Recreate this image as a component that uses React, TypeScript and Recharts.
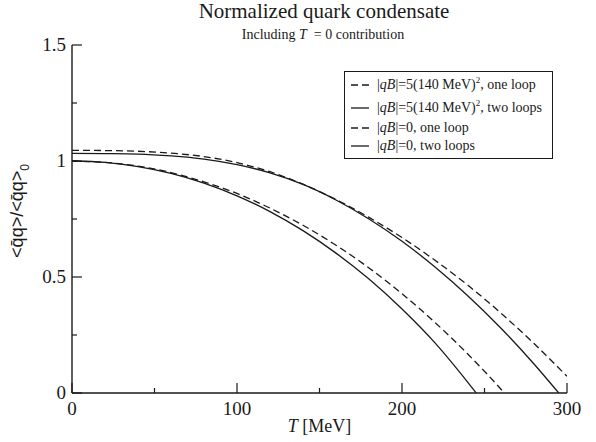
import { Legend, Line, LineChart, XAxis, YAxis } from "recharts";

const INK = "#1a1a1a";
const SERIF = '"Liberation Serif", "Times New Roman", serif';
const SANS = '"Liberation Sans", "DejaVu Sans", sans-serif';

// temperatures (MeV) and normalized condensate
const tQb5OneLoop = [0, 20, 40, 60, 80, 100, 120, 140, 160, 180, 200, 220, 240, 260, 280, 300];
const qb5OneLoop = [1.046, 1.045, 1.042, 1.034, 1.019, 0.993, 0.954, 0.9, 0.834, 0.757, 0.67, 0.572, 0.464, 0.344, 0.213, 0.072];

const tQb5TwoLoops = [0, 20, 40, 60, 80, 100, 120, 140, 160, 180, 200, 220, 240, 260, 280, 295];
const qb5TwoLoops = [1.033, 1.032, 1.03, 1.022, 1.008, 0.984, 0.949, 0.899, 0.832, 0.75, 0.654, 0.543, 0.418, 0.279, 0.125, 0];

const tQb0OneLoop = [0, 20, 40, 60, 80, 100, 120, 140, 160, 180, 200, 220, 240, 260, 262];
const qb0OneLoop = [1.0, 0.994, 0.978, 0.95, 0.91, 0.86, 0.797, 0.723, 0.637, 0.539, 0.428, 0.304, 0.167, 0.016, 0];

const tQb0TwoLoops = [0, 20, 40, 60, 80, 100, 120, 140, 160, 180, 200, 220, 240, 245];
const qb0TwoLoops = [1.0, 0.994, 0.976, 0.947, 0.905, 0.85, 0.782, 0.7, 0.603, 0.491, 0.362, 0.216, 0.045, 0];

const xTicks = [0, 50, 100, 150, 200, 250, 300];
const yTicks = [0, 0.25, 0.5, 0.75, 1, 1.25, 1.5];

const rows = (ts: number[], vs: number[]) => ts.map((T, i) => ({ T, v: vs[i] }));

const SERIES = [
  { id: "qb5-1", data: rows(tQb5OneLoop, qb5OneLoop), dashed: true, field: "5(140 MeV)", squared: true, loops: "one loop" },
  { id: "qb5-2", data: rows(tQb5TwoLoops, qb5TwoLoops), dashed: false, field: "5(140 MeV)", squared: true, loops: "two loops" },
  { id: "qb0-1", data: rows(tQb0OneLoop, qb0OneLoop), dashed: true, field: "0", squared: false, loops: "one loop" },
  { id: "qb0-2", data: rows(tQb0TwoLoops, qb0TwoLoops), dashed: false, field: "0", squared: false, loops: "two loops" },
];

const DASH = "7 4";
const isMajorX = (v: number) => v % 100 === 0;
const isMajorY = (v: number) => Math.abs(v * 2 - Math.round(v * 2)) < 1e-6;

function BottomTick({ x, y, payload }: any) {
  const major = isMajorX(payload.value);
  return (
    <g>
      <line x1={x} x2={x} y1={y} y2={y - (major ? 10 : 5)} stroke={INK} strokeWidth={1.2} />
      {major && (
        <text x={x} y={y + 22} textAnchor="middle" fontFamily={SERIF} fontSize={19} fill={INK}>
          {payload.value}
        </text>
      )}
    </g>
  );
}

function TopTick({ x, y, payload }: any) {
  const major = isMajorX(payload.value);
  return <line x1={x} x2={x} y1={y} y2={y + (major ? 10 : 5)} stroke={INK} strokeWidth={1.2} />;
}

function LeftTick({ x, y, payload }: any) {
  const major = isMajorY(payload.value);
  return (
    <g>
      <line x1={x} x2={x + (major ? 10 : 5)} y1={y} y2={y} stroke={INK} strokeWidth={1.2} />
      {major && (
        <text x={x - 6} y={y} dy="0.34em" textAnchor="end" fontFamily={SERIF} fontSize={19} fill={INK}>
          {payload.value}
        </text>
      )}
    </g>
  );
}

function RightTick({ x, y, payload }: any) {
  const major = isMajorY(payload.value);
  return <line x1={x} x2={x - (major ? 10 : 5)} y1={y} y2={y} stroke={INK} strokeWidth={1.2} />;
}

function YTitle({ viewBox }: any) {
  const cx = viewBox.x + 23;
  const cy = viewBox.y + viewBox.height / 2 - 8;
  return (
    <text x={cx} y={cy} textAnchor="middle" transform={`rotate(-90, ${cx}, ${cy})`} fontFamily={SANS} fontSize={18} fill={INK}>
      {"<q\u0304q>/<q\u0304q>"}
      <tspan dy={6} fontSize={12}>0</tspan>
    </text>
  );
}

function XTitle({ viewBox }: any) {
  const cx = viewBox.x + viewBox.width / 2;
  return (
    <text x={cx} y={432} textAnchor="middle" fontFamily={SERIF} fontSize={18} fill={INK}>
      <tspan fontStyle="italic">T</tspan> [MeV]
    </text>
  );
}

function LegendBox() {
  const centers = [13, 36, 56, 74];
  return (
    <div
      style={{
        position: "relative",
        width: 207,
        height: 86,
        border: `1px solid ${INK}`,
        background: "#fff",
        fontFamily: SERIF,
        fontSize: 14,
        color: INK,
      }}
    >
      {SERIES.map((s, i) => (
        <div key={s.id} style={{ position: "absolute", left: 0, right: 0, top: centers[i] - 9, height: 18, lineHeight: "18px", whiteSpace: "nowrap" }}>
          <svg width={20} height={18} style={{ position: "absolute", left: 5, top: 0 }}>
            <line x1={1} x2={19} y1={9} y2={9} stroke={INK} strokeWidth={1.3} strokeDasharray={s.dashed ? DASH : undefined} />
          </svg>
          <span style={{ position: "absolute", left: 32, top: 0 }}>
            |<i>qB</i>|=
            {s.field}
            {s.squared && <sup style={{ fontSize: 9, lineHeight: 0, verticalAlign: "6px" }}>2</sup>}, {s.loops}
          </span>
        </div>
      ))}
    </div>
  );
}

export default function App() {
  return (
    <div style={{ position: "absolute", left: 0, top: 0, width: 596, height: 442, background: "#fff" }}>
      <svg width={596} height={442} style={{ position: "absolute", left: 0, top: 0 }}>
        <text x={324} y={18} textAnchor="middle" fontFamily={SERIF} fontSize={21} fill={INK}>
          Normalized quark condensate
        </text>
        <text x={323} y={39} textAnchor="middle" fontFamily={SERIF} fontSize={14} fill={INK}>
          Including <tspan fontStyle="italic">T</tspan>{"\u00a0\u00a0= 0 contribution"}
        </text>
      </svg>
      <LineChart width={596} height={442} margin={{ top: 45, right: 29, bottom: 0, left: 0 }} style={{ position: "absolute", left: 0, top: 0 }}>
        <XAxis
          xAxisId="b"
          dataKey="T"
          type="number"
          domain={[0, 300]}
          ticks={xTicks}
          interval={0}
          height={49}
          tickSize={0}
          tickMargin={0}
          tickLine={false}
          tick={<BottomTick />}
          axisLine={{ stroke: INK, strokeWidth: 1.4 }}
          label={<XTitle />}
          allowDataOverflow
        />
        <XAxis
          xAxisId="t"
          orientation="top"
          dataKey="T"
          type="number"
          domain={[0, 300]}
          ticks={xTicks}
          interval={0}
          height={0}
          tickSize={0}
          tickMargin={0}
          tickLine={false}
          tick={<TopTick />}
          axisLine={{ stroke: INK, strokeWidth: 1.4 }}
        />
        <YAxis
          yAxisId="l"
          type="number"
          domain={[0, 1.5]}
          ticks={yTicks}
          interval={0}
          width={72}
          tickSize={0}
          tickMargin={0}
          tickLine={false}
          tick={<LeftTick />}
          axisLine={{ stroke: INK, strokeWidth: 1.4 }}
          label={<YTitle />}
          allowDataOverflow
        />
        <YAxis
          yAxisId="r"
          orientation="right"
          type="number"
          domain={[0, 1.5]}
          ticks={yTicks}
          interval={0}
          width={0}
          tickSize={0}
          tickMargin={0}
          tickLine={false}
          tick={<RightTick />}
          axisLine={{ stroke: INK, strokeWidth: 1.4 }}
        />
        <Legend
          layout="vertical"
          align="center"
          verticalAlign="middle"
          content={<LegendBox />}
          wrapperStyle={{ position: "absolute", left: 344, top: 71, width: 209, height: 88 }}
        />
        {SERIES.map((s) => (
          <Line
            key={s.id}
            xAxisId="b"
            yAxisId="l"
            data={s.data}
            dataKey="v"
            name={s.id}
            type="monotone"
            stroke={INK}
            strokeWidth={1.3}
            strokeDasharray={s.dashed ? DASH : undefined}
            dot={false}
            activeDot={false}
            isAnimationActive={false}
          />
        ))}
      </LineChart>
    </div>
  );
}
